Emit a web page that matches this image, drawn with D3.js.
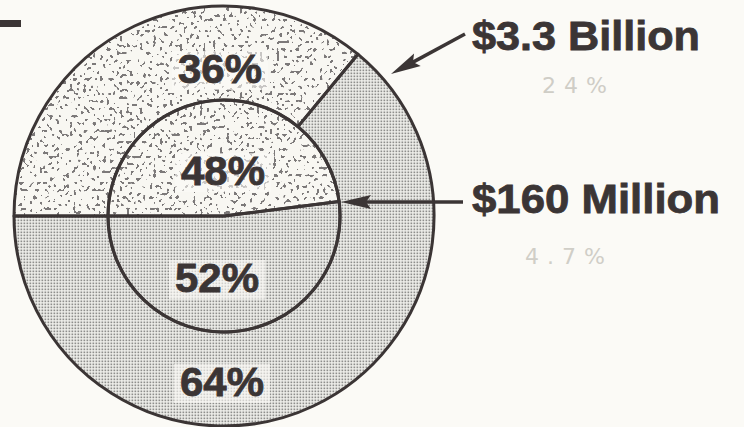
<!DOCTYPE html>
<html>
<head>
<meta charset="utf-8">
<script src="https://cdn.jsdelivr.net/npm/d3@7"></script>
<style>
  html, body { margin: 0; padding: 0; background: #fbfaf6; }
  svg { display: block; }
</style>
</head>
<body>
<svg id="chart" width="744" height="427"></svg>
<script>
// Shares of the two totals (outer ring: $3.3 billion, inner disc: $160 million)
const shareLabels = ["36%", "64%"];
const outerShares = [36, 64];
const innerShares = [48, 52];
const innerLabels = ["48%", "52%"];
const totals = ["$3.3 Billion", "$160 Million"];
const notes = ["24%", "4.7%"];

const W = 744, H = 427;
const cx = 224, cy = 216;
const rOuter = 210, rInner = 116;
const ink = "#3b3535";
const paper = "#fbfaf6";

const svg = d3.select("#chart");
const defs = svg.append("defs");

// fine halftone dot screen
const grid = defs.append("pattern")
  .attr("id", "screen").attr("patternUnits", "userSpaceOnUse")
  .attr("width", 3).attr("height", 3);
grid.append("rect").attr("width", 3).attr("height", 3).attr("fill", "#f0f0ec");
grid.append("rect").attr("x", 0.5).attr("y", 0.5).attr("width", 1.7).attr("height", 1.7).attr("fill", "#8e8e8c");

// coarse speckle texture
const speck = defs.append("filter").attr("id", "speck")
  .attr("x", 0).attr("y", 0).attr("width", 1).attr("height", 1)
  .attr("filterUnits", "objectBoundingBox");
speck.append("feTurbulence").attr("type", "fractalNoise")
  .attr("baseFrequency", "0.3 0.27").attr("numOctaves", 1).attr("seed", 11).attr("result", "noise");
speck.append("feColorMatrix").attr("in", "noise").attr("type", "matrix")
  .attr("values", "0 0 0 0 0.2  0 0 0 0 0.19  0 0 0 0 0.19  -50 0 0 0 19");

const fills = ["speck", "screen"];

const pie = d3.pie().sort(null).startAngle(-Math.PI / 2).endAngle(3 * Math.PI / 2);
const outerArc = d3.arc().innerRadius(rInner).outerRadius(rOuter);
const innerArc = d3.arc().innerRadius(0).outerRadius(rInner);

const g = svg.append("g").attr("transform", `translate(${cx},${cy})`);

function drawRing(data, arc, key) {
  pie(data).forEach((d, i) => {
    const id = `clip-${key}-${i}`;
    defs.append("clipPath").attr("id", id)
      .append("path").attr("d", arc(d)).attr("transform", `translate(${cx},${cy})`);
    if (fills[i] === "speck") {
      g.append("path").attr("d", arc(d)).attr("fill", "#f8f7f2");
      svg.append("rect").attr("x", 0).attr("y", 0).attr("width", W).attr("height", H)
        .attr("filter", "url(#speck)").attr("clip-path", `url(#${id})`);
    } else {
      g.append("path").attr("d", arc(d)).attr("fill", "url(#screen)");
    }
  });
}

drawRing(outerShares, outerArc, "outer");
drawRing(innerShares, innerArc, "inner");

// outlines drawn on top of the textures
const lines = svg.append("g").attr("transform", `translate(${cx},${cy})`)
  .attr("fill", "none").attr("stroke", ink).attr("stroke-width", 3).attr("stroke-linejoin", "round");
pie(outerShares).forEach(d => lines.append("path").attr("d", outerArc(d)));
pie(innerShares).forEach(d => lines.append("path").attr("d", innerArc(d)));

// percentage labels
const labelPos = [
  { text: shareLabels[0], dx: -4, base: -133 },
  { text: innerLabels[0], dx: -1, base: -31 },
  { text: innerLabels[1], dx: -7, base: 76 },
  { text: shareLabels[1], dx: -2, base: 180 }
];
const font = "'Liberation Sans', Arial, sans-serif";
const lab = svg.append("g").attr("transform", `translate(${cx},${cy})`);
labelPos.forEach(p => {
  const t = lab.append("text").attr("x", p.dx).attr("y", p.base)
    .attr("text-anchor", "middle")
    .attr("font-family", font)
    .attr("font-weight", "bold").attr("font-size", 40)
    .attr("fill", ink).attr("stroke", ink).attr("stroke-width", 0.8)
    .attr("textLength", 84).attr("lengthAdjust", "spacingAndGlyphs")
    .text(p.text);
  const bb = t.node().getBBox();
  lab.insert("rect", "text")
    .attr("x", bb.x - 6).attr("y", bb.y + 4).attr("width", bb.width + 12).attr("height", bb.height - 5)
    .attr("fill", paper).attr("opacity", 0.6);
});

// callout labels with arrows
svg.append("text").attr("x", 472).attr("y", 50)
  .attr("font-family", font).attr("font-weight", "bold").attr("font-size", 40)
  .attr("fill", ink).attr("stroke", ink).attr("stroke-width", 0.8)
  .attr("textLength", 228).attr("lengthAdjust", "spacingAndGlyphs")
  .text(totals[0]);
svg.append("text").attr("x", 472).attr("y", 213)
  .attr("font-family", font).attr("font-weight", "bold").attr("font-size", 40)
  .attr("fill", ink).attr("stroke", ink).attr("stroke-width", 0.8)
  .attr("textLength", 248).attr("lengthAdjust", "spacingAndGlyphs")
  .text(totals[1]);

function arrow(x1, y1, x2, y2) {
  const ang = Math.atan2(y2 - y1, x2 - x1);
  const len = 30, half = 7;
  const cosA = Math.cos(ang), sinA = Math.sin(ang);
  const bx = x2 - len * cosA, by = y2 - len * sinA;
  svg.append("line").attr("x1", x1).attr("y1", y1).attr("x2", bx + 6 * cosA).attr("y2", by + 6 * sinA)
    .attr("stroke", ink).attr("stroke-width", 3.5);
  const nx = -sinA, ny = cosA;
  svg.append("path")
    .attr("d", `M${x2},${y2}L${bx + nx * half},${by + ny * half}L${bx + 5 * cosA},${by + 5 * sinA}L${bx - nx * half},${by - ny * half}Z`)
    .attr("fill", ink);
}
arrow(465, 34, 391, 74);
arrow(463, 202, 341, 202);

// faint pencil notes under the totals
svg.append("text").attr("x", 542).attr("y", 93)
  .attr("font-family", "'DejaVu Sans', sans-serif").attr("font-size", 22)
  .attr("fill", "#cfcdc6").attr("letter-spacing", 8).text(notes[0]);
svg.append("text").attr("x", 525).attr("y", 264)
  .attr("font-family", "'DejaVu Sans', sans-serif").attr("font-size", 22)
  .attr("fill", "#d0cec7").attr("letter-spacing", 8).text(notes[1]);

// cut-off rule at the upper left
svg.append("rect").attr("x", 0).attr("y", 20).attr("width", 21).attr("height", 7).attr("fill", ink);
</script>
</body>
</html>
